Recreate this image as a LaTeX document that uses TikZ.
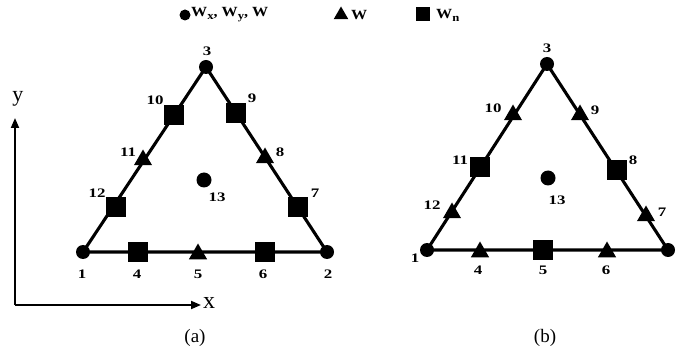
\documentclass[tikz,border=0pt]{standalone}
\usepackage{fontspec}
\setmainfont{Liberation Serif}
\newfontfamily\labfont[FakeStretch=1.3]{Liberation Serif}
\newfontfamily\legfont[FakeStretch=1.15]{Liberation Serif}
\usetikzlibrary{shapes.geometric,arrows.meta}
\tikzset{
  edge/.style={line width=3.1pt},
  circ/.style={circle,fill=black,inner sep=0pt,minimum size=14pt},
  sq/.style={rectangle,fill=black,inner sep=0pt,minimum size=20pt},
  tri/.style={regular polygon,regular polygon sides=3,fill=black,inner sep=0pt,minimum size=21pt},
  lab/.style={font=\labfont\fontsize{13}{15}\selectfont\bfseries,inner sep=0pt},
  leg/.style={font=\legfont\fontsize{14}{16}\selectfont\bfseries,inner sep=0pt},
  axis/.style={line width=1.9pt,-{Triangle[length=10pt,width=8pt]}},
  captxt/.style={font=\fontsize{19}{21}\selectfont,inner sep=0pt}
}
\newcommand{\lsub}[1]{\raisebox{-3pt}{\fontsize{11}{12}\selectfont #1}}
\begin{document}
\begin{tikzpicture}[x=1pt,y=-1pt]
\useasboundingbox (0,0) rectangle (676,352);
% legend
\node[circ,minimum size=11pt] (lc) at (185,15) {};
\node[leg,anchor=west] (lct) at (191,15) {W\lsub{x}, W\lsub{y}, W};
\node[tri,minimum size=17pt] (lt) at (341,15) {};
\node[leg,anchor=west] (ltt) at (351,15) {W};
\node[sq,minimum size=14pt] (ls) at (423,14) {};
\node[leg,anchor=west] (lst) at (436,15) {W\lsub{n}};
% axes
\coordinate (o) at (15,305);
\coordinate (yt) at (15,118);
\coordinate (xt) at (201,305);
\draw[axis] (o) -- (yt);
\draw[axis] (o) -- (xt);
\node[captxt,font=\fontsize{22}{24}\selectfont] (ylab) at (18,99) {y};
\node[captxt,font=\fontsize{24}{26}\selectfont] (xlab) at (209,303) {x};
% ----- (a)
\node[circ] (a1) at (83,252) {};
\node[circ] (a2) at (327,252) {};
\node[circ] (a3) at (206,67) {};
\draw[edge] (a1.center) -- (a2.center) -- (a3.center) -- cycle;
\node[circ,minimum size=15pt] (a13) at (204,180) {};
\node[sq] (a4) at (138,252) {};
\node[tri] (a5) at (198,254) {};
\node[sq] (a6) at (265,252) {};
\node[sq] (a12) at (116,207) {};
\node[tri] (a11) at (143,160) {};
\node[sq] (a10) at (174,115) {};
\node[sq] (a9) at (236,113) {};
\node[tri] (a8) at (265,158) {};
\node[sq] (a7) at (298,207) {};
\node[lab] at (82,274) {1};
\node[lab] at (328,274) {2};
\node[lab] at (207,51) {3};
\node[lab] at (137,274) {4};
\node[lab] at (198,274) {5};
\node[lab] at (263,274) {6};
\node[lab] at (315,193) {7};
\node[lab] at (280,152) {8};
\node[lab] at (252,98) {9};
\node[lab] at (155,100) {10};
\node[lab] at (128,152) {11};
\node[lab] at (97,193) {12};
\node[lab] at (217,197) {13};
\node[captxt] (capa) at (195,338) {(a)};
% ----- (b)
\node[circ] (b1) at (427,250) {};
\node[circ] (b2) at (668,250) {};
\node[circ] (b3) at (547,64) {};
\draw[edge] (b1.center) -- (b2.center) -- (b3.center) -- cycle;
\node[circ,minimum size=15pt] (b13) at (548,178) {};
\node[tri] (b4) at (480,252) {};
\node[sq] (b5) at (543,250) {};
\node[tri] (b6) at (607,252) {};
\node[tri] (b12) at (452,213) {};
\node[sq] (b11) at (480,167) {};
\node[tri] (b10) at (513,115) {};
\node[tri] (b9) at (580,115) {};
\node[sq] (b8) at (617,170) {};
\node[tri] (b7) at (646,216) {};
\node[lab] at (415,258) {1};
\node[lab] at (547,48) {3};
\node[lab] at (478,270) {4};
\node[lab] at (543,270) {5};
\node[lab] at (606,270) {6};
\node[lab] at (662,212) {7};
\node[lab] at (633,160) {8};
\node[lab] at (595,110) {9};
\node[lab] at (493,108) {10};
\node[lab] at (460,160) {11};
\node[lab] at (432,205) {12};
\node[lab] at (557,200) {13};
\node[captxt] (capb) at (545,338) {(b)};
\end{tikzpicture}
\end{document}
